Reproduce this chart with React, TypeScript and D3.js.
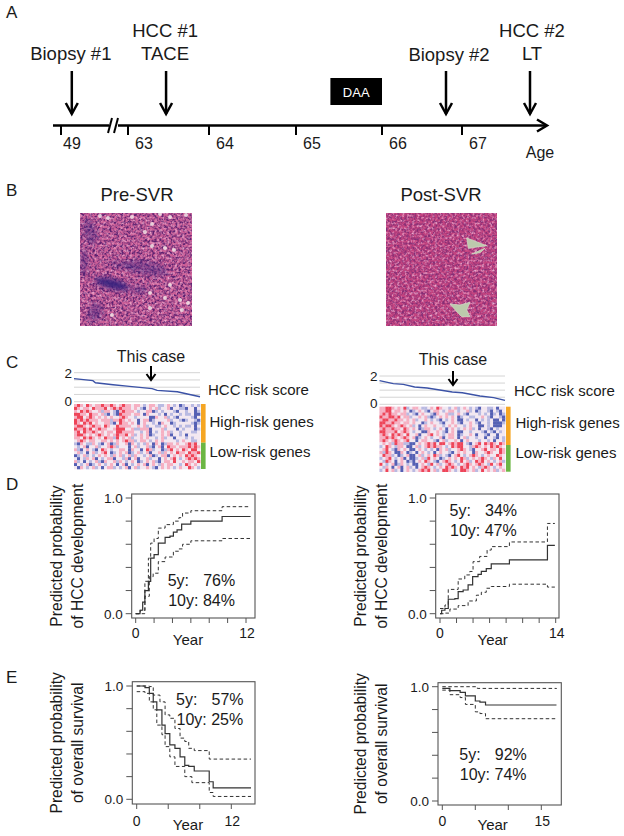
import React from "react"
import * as d3 from "d3"

const FONT = "'Liberation Sans', Arial, sans-serif"
const INK = "#1a1a1a"

// timeline (A)
const ageStops = [49, 50, 63, 64, 65, 66, 67, 68]
const ageTicks = [49, 63, 64, 65, 66, 67]
const events = [
  { age: 49.2, lines: ["Biopsy #1"], top: 60, dx: -1 },
  { age: 63.47, lines: ["HCC #1", "TACE"], top: 37, dx: -1 },
  { age: 66.8, lines: ["Biopsy #2"], top: 61, dx: 3 },
  { age: 67.8, lines: ["HCC #2", "LT"], top: 37, dx: 2 },
]
const daaStart = 65.4
const daaEnd = 66

// risk score curves (C), sample percentile -> score
const scorePre: [number, number][] = [
  [0, 1.59], [15, 1.45], [17, 1.31], [31, 1.17], [44, 1.06], [62, 0.9], [66, 0.78], [82, 0.69], [90, 0.53], [100, 0.34],
]
const scorePost: [number, number][] = [
  [0, 1.67], [11, 1.46], [19, 1.41], [28, 1.22], [38, 1.15], [58, 0.87], [66, 0.82], [80, 0.59], [91, 0.47], [100, 0.28],
]

// heatmap cells, R strong red, r pink, w pale, b light blue, B strong blue
const heatPre = [
  "rRrwRrwrrRrrRrwrRrrwrrwbwrrwbbwrwbwBbwwbwb",
  "RrwrrwRrrrRwrRrRrrrwrwbBwrwrbwwrBwwbbBwwBw",
  "rwRrRrwwrbrrwbBrRrrrwbwwrrBbwbwwwbBwwbwwBb",
  "RRrrwRrrwrbBwbBRrrrwrrwBrwwwbwBwbwwbwbbwBB",
  "rRRwrRrwrwrwrwwrRrwwbwwwwBBrwwrbwbBwwwwbBw",
  "RrRrRrrrwrrrbrrRrwrwwBwrrBbwwwwrbwwbBbwwbB",
  "RrwRrRwrwwrrbBwRrrwrwBwrwwbwBrwwBbwwwwwbBb",
  "rRRrwrRrrwRrwwRrrrrwwrwrbwwbbwrwwbwbwbbwBw",
  "RrrRrRwrRrrwwrRRRwwrbbrrrBwwwrbwwwBwbwwwBb",
  "rRwRrrRrwrwrrwRRrrrrwwbwrBwbwrwrbwwbwwwbbw",
  "rRRrwrwrRrwrwrRrrRwrbwrwrBbwwrwrBwwbwBwwww",
  "rrwRrRrwrwRrrbRwrwrbwwrwrwwbwrbwwBwwwbwbww",
  "wrRrwrrwwrrwrwrwrRrrbwrrwbwrwrwwwwbwrwwbbw",
  "bBrwbbrwbBwrBbrwwrBrwbwbrwBrwBbrrwrwwrRrRw",
  "wbwrBwwrbwwrRrbwwwBwrbwwrbBwrBwRrrwrrrRrRr",
  "rbBwrwbBwRrwbwwrrwBrwwBwRrbwwBbrRwrwRrwRRw",
  "wrbwBwrbwrRwBbwrwrBbwrbwrBwwrbrwrwRrrwRrrR",
  "BbwrbwbwrwrwbrwrbwrbrwwbwrBbwrrBwrwrwRrRrw",
  "wBwbrwrBwbwrrBwwbrBwrBwwrbwwBwrwrRwbwrRrRr",
  "rbwBwbwrbBrwwrbrwbwrwBbwrwrbBwrrwRwwrwrrwR",
  "BwbwrBbwrwbwrwBwrBwbwrwrBwrwbrwrrwwbwRrwrw",
  "wBrwbwrbwBwrrbwbwrBwrbwwrwbBwrwrwbwrwwRrwb",
]
const heatPost = [
  "rrRRrwrwRbwrrwbbwrwRrwwbwrbwrwbwbBwwbbwBww",
  "rrRRwrrwrwBbwrwbBwrrwbwrrwbwwrbwBbwwbBwbBw",
  "rRrRrrwrrbwbBwrwwbBrwwrbbwrwbBwwwbwbwBbwBb",
  "RrrRRrRwrrbwwrwrbBbwrwrwrwBbwwbbwwrwbBwwbB",
  "rRRrrRrrwrwrbwwrwbwbBwbwrwBBwbwwBwbwbwBBwB",
  "RRrrRrrwrrwrwwBbwrwwbBwwrwbBwwrwbBwwbwBBBb",
  "RrRRrwrRrwrbwBwrwwrwwbwrwrwwbwrwwBBwbwBBBw",
  "rRrrRrrwRrwrwBbrrwbwrwBwrwbwrwrbwBwwbBwbww",
  "RRrrrRwrRrwbwwBBrwwrwbBwrwBBwwbwwwbBwbBwbw",
  "rRrwRrRrwRwwrBwwrRwrwbwrrwBbwwrwBwwbBwwBww",
  "rrRrRrwrRrwrBbwrwbwwrBwrrwBwrbwwbwwBwwbBwb",
  "rRrwrRrwrRwwBwrrwwbBwrbwwrwBwrwwwbwwbwBwwb",
  "wrwrbRrrbbBBwrwrRrRwRRwrRrRRwbBwrRwRrRrwRr",
  "bwRrwbrrwBBwrbwrRrRrrwbwRrRRwwbrRrwrwRrRrw",
  "wrRwbBrwrwBBwrwbwbwBrwrbwwrRrwbBwwrRwrrwRr",
  "rbRrwBBrwBbwBwrwbwBwrwwbBwrwrwwBrwwrRrwwRr",
  "wRrrbwBbwrBBwrbwrwRrbwbBwrRwbwrRrwbwrwwRrw",
  "bwrRwbwrBwBBbwrbRwrwBbwrwrwRrbwrwrRrwbrwRw",
  "wbRrwBwrwBbBwrwRrwbBwrRrwbwRwrbwRrRwrwbwrb",
  "RwbwrBbrwbwBBwrwbRwrbwrRrwbwrRrwrRrwbRwrRw",
  "wbrwBwrBwrbwBwrRrwbwrwRrRrwRrRwrwbrRrwbwrw",
  "bwRwrbwBwrwbwrRrRwrbwRRrwbwRRrwrbwRwrwrbwr",
]

// HCC development (D), year -> probability
const devPreMid: [number, number][] = [
  [0, 0], [0.47, 0.03], [0.76, 0.1], [1, 0.2], [1.38, 0.28], [1.63, 0.48], [2, 0.51], [2.46, 0.61], [3.2, 0.66], [3.73, 0.67],
  [4.1, 0.705], [4.5, 0.725], [5, 0.775], [6, 0.8], [9.4, 0.84], [12.5, 0.84],
]
const devPreHigh: [number, number][] = [
  [0, 0], [0.5, 0.03], [1, 0.28], [1.38, 0.48], [1.63, 0.61], [2, 0.65], [2.46, 0.74], [3.2, 0.77], [4.1, 0.8], [4.7, 0.83],
  [5.1, 0.87], [6, 0.89], [9.4, 0.925], [12.5, 0.925],
]
const devPreLow: [number, number][] = [
  [0, 0], [0.47, 0], [1, 0.15], [1.48, 0.32], [1.9, 0.35], [2.46, 0.45], [3.2, 0.49], [4.1, 0.54], [4.7, 0.56], [5.1, 0.6],
  [6, 0.63], [9.4, 0.65], [12.5, 0.65],
]
const devPostMid: [number, number][] = [
  [0, 0], [0.2, 0.03], [0.6, 0.045], [1, 0.125], [1.8, 0.13], [2.2, 0.19], [2.8, 0.205], [3.4, 0.25], [3.95, 0.32], [4.6, 0.34],
  [5, 0.365], [5.6, 0.39], [6.2, 0.43], [8.4, 0.465], [13, 0.59], [13.9, 0.59],
]
const devPostHigh: [number, number][] = [
  [0, 0.045], [0.6, 0.075], [1, 0.21], [2.2, 0.3], [3, 0.335], [3.6, 0.365], [4, 0.45], [4.8, 0.495], [5.7, 0.55], [6.2, 0.58],
  [8.4, 0.62], [13, 0.78], [13.9, 0.78],
]
const devPostLow: [number, number][] = [
  [0, 0], [0.6, 0.005], [1.2, 0.04], [2.2, 0.07], [3.4, 0.11], [4.4, 0.16], [5, 0.185], [5.6, 0.22], [6.2, 0.235], [8.4, 0.255],
  [13, 0.23], [13.9, 0.23],
]

// overall survival (E), year -> probability
const survPreMid: [number, number][] = [
  [0, 1], [1.05, 0.985], [1.6, 0.935], [2.1, 0.86], [2.55, 0.79], [3.2, 0.655], [3.6, 0.58], [4.2, 0.48], [4.85, 0.45], [5.5, 0.375],
  [6.1, 0.3], [6.6, 0.29], [7.3, 0.25], [9.2, 0.155], [9.7, 0.1], [14.5, 0.1],
]
const survPreHigh: [number, number][] = [
  [0, 1], [1.6, 0.995], [2.1, 0.92], [2.95, 0.86], [3.6, 0.745], [4.2, 0.715], [4.85, 0.625], [5.5, 0.54], [6.1, 0.51], [6.6, 0.45],
  [7.3, 0.43], [9.2, 0.355], [14.5, 0.355],
]
const survPreLow: [number, number][] = [
  [0, 0.95], [1.05, 0.935], [1.6, 0.86], [2.1, 0.79], [2.55, 0.655], [3.2, 0.57], [3.6, 0.465], [4.2, 0.375], [4.85, 0.29], [6.1, 0.2],
  [7, 0.147], [9.2, 0.06], [9.7, 0.025], [14.5, 0.025],
]
const survPostMid: [number, number][] = [
  [0, 0.985], [1.15, 0.965], [2.7, 0.95], [3.5, 0.92], [5, 0.875], [5.7, 0.865], [6.55, 0.84], [17.3, 0.84],
]
const survPostHigh: [number, number][] = [
  [0, 1], [5.3, 0.985], [17.3, 0.98],
]
const survPostLow: [number, number][] = [
  [0, 0.97], [1.15, 0.93], [2.7, 0.905], [3.5, 0.845], [5, 0.78], [5.7, 0.765], [6.55, 0.72], [17.3, 0.72],
]

const heatColor: Record<string, string> = {
  R: "#ee4459",
  r: "#f6b0c2",
  w: "#f3e8f1",
  b: "#b9bae2",
  B: "#5560b4",
}

function Txt({ x, y, size, anchor, fill, children }: any) {
  return (
    <text x={x} y={y} fontSize={size} textAnchor={anchor ?? "start"} fill={fill ?? INK} fontFamily={FONT}>
      {children}
    </text>
  )
}

function Arrow({ x, y1, y2, wing, drop, sw }: any) {
  return (
    <g fill="none" stroke="#000" strokeWidth={sw}>
      <line x1={x} x2={x} y1={y1} y2={y2} />
      <polyline points={`${x - wing},${y2 - drop} ${x},${y2} ${x + wing},${y2 - drop}`} />
    </g>
  )
}

function Timeline() {
  const x = d3.scaleLinear().domain(ageStops).range([61, 115, 128, 209, 296, 382, 462, 547])
  const axisY = 125.5
  const startX = 53
  const endX = x(68)
  return (
    <g>
      <line x1={startX} x2={109} y1={axisY} y2={axisY} stroke="#000" strokeWidth={2.5} />
      <line x1={118} x2={endX - 2} y1={axisY} y2={axisY} stroke="#000" strokeWidth={2.5} />
      <polyline points={`${endX - 10},${axisY - 6} ${endX},${axisY} ${endX - 10},${axisY + 6}`} fill="none" stroke="#000" strokeWidth={2.5} />
      <line x1={108} x2={112} y1={133} y2={118} stroke="#000" strokeWidth={2} />
      <line x1={114} x2={118} y1={133} y2={118} stroke="#000" strokeWidth={2} />
      {ageTicks.map((a) => (
        <g key={a}>
          <line x1={x(a)} x2={x(a)} y1={axisY} y2={135} stroke="#000" strokeWidth={2} />
          <Txt x={x(a) + (a === 49 ? 11 : 16)} y={149} size={16} anchor="middle">{a}</Txt>
        </g>
      ))}
      <Txt x={540} y={158} size={16} anchor="middle">Age</Txt>
      {events.map((e) => (
        <g key={e.age}>
          <Arrow x={x(e.age)} y1={71} y2={114} wing={6} drop={11} sw={2.5} />
          {e.lines.map((l, i) => (
            <Txt key={l} x={x(e.age) + e.dx} y={e.top + i * 23} size={18.5} anchor="middle">{l}</Txt>
          ))}
        </g>
      ))}
      <rect x={x(daaStart)} y={78} width={x(daaEnd) - x(daaStart)} height={27} fill="#000" />
      <Txt x={(x(daaStart) + x(daaEnd)) / 2} y={97} size={13} anchor="middle" fill="#fff">DAA</Txt>
    </g>
  )
}

function TissueDefs() {
  return (
    <defs>
      <filter id="tissueDark" x="0" y="0" width="1" height="1" colorInterpolationFilters="sRGB">
        <feTurbulence type="fractalNoise" baseFrequency="0.42" numOctaves="2" seed="7" />
        <feColorMatrix type="matrix" values="0 0 0 0 0.36  0 0 0 0 0.13  0 0 0 0 0.44  3 0 0 0 -1.15" />
        <feGaussianBlur stdDeviation="0.6" />
      </filter>
      <filter id="tissueLight" x="0" y="0" width="1" height="1" colorInterpolationFilters="sRGB">
        <feTurbulence type="fractalNoise" baseFrequency="0.4" numOctaves="2" seed="21" />
        <feColorMatrix type="matrix" values="0 0 0 0 0.93  0 0 0 0 0.66  0 0 0 0 0.8  0 2.6 0 0 -1.25" />
        <feGaussianBlur stdDeviation="0.6" />
      </filter>
      <filter id="soft" x="-40%" y="-40%" width="180%" height="180%">
        <feGaussianBlur stdDeviation="2.4" />
      </filter>
      <filter id="softSmall" x="-100%" y="-100%" width="300%" height="300%">
        <feGaussianBlur stdDeviation="0.7" />
      </filter>
      <filter id="heatSoft" x="0" y="0" width="1" height="1">
        <feGaussianBlur stdDeviation="0.4" />
      </filter>
    </defs>
  )
}

const preDark = [
  [112, 284, 18, 5, 14], [122, 265, 14, 3, 8], [90, 232, 6, 14, -15], [95, 312, 7, 10, 20], [139, 290, 9, 4, 0], [146, 268, 22, 7, 10], [84, 262, 4, 14, 0],
]
const prePale = [
  [108, 218], [132, 217], [152, 224], [160, 214], [170, 217], [186, 215], [152, 246], [165, 248], [174, 250], [150, 308],
  [112, 315], [170, 285], [150, 293], [180, 300], [188, 303], [182, 310], [165, 298], [100, 216], [145, 232],
]
const postPale = [
  "466.7,238 472,240 486.7,245.7 475,247.3 468.3,248.3",
  "471.7,254 485,248.3 480,252.7",
  "450,304 460,305 470,302.3 466.7,310 470,316.7 461.7,316.7 458.3,313.3",
]

function Tissue() {
  return (
    <g>
      <rect x={80} y={213} width={112} height={113} fill="#cc5f97" />
      <rect x={80} y={213} width={112} height={113} filter="url(#tissueDark)" />
      <rect x={80} y={213} width={112} height={113} filter="url(#tissueLight)" />
      <clipPath id="preClip"><rect x={80} y={213} width={112} height={113} /></clipPath>
      <g clipPath="url(#preClip)">
        {preDark.map((d, i) => (
          <ellipse key={i} cx={d[0]} cy={d[1]} rx={d[2]} ry={d[3]} transform={`rotate(${d[4]} ${d[0]} ${d[1]})`} fill="#38247f" opacity={i === 0 ? 0.95 : 0.4} filter="url(#soft)" />
        ))}
        {prePale.map((d, i) => (
          <circle key={i} cx={d[0]} cy={d[1]} r={2} fill="#f3e3e6" opacity={0.85} filter="url(#softSmall)" />
        ))}
      </g>
      <rect x={386} y={213} width={111} height={113} fill="#c4437f" />
      <rect x={386} y={213} width={111} height={113} filter="url(#tissueDark)" opacity={0.6} />
      <rect x={386} y={213} width={111} height={113} filter="url(#tissueLight)" />
      {postPale.map((p) => (
        <polygon key={p} points={p} fill="#bccaac" stroke="#cfd8c4" strokeWidth={0.8} />
      ))}
    </g>
  )
}

function Heat({ rows, x0, x1, y0, y1 }: { rows: string[]; x0: number; x1: number; y0: number; y1: number }) {
  const cols = d3.max(rows, (r) => r.length) ?? 0
  const x = d3.scaleBand<number>().domain(d3.range(cols)).range([x0, x1])
  const y = d3.scaleBand<number>().domain(d3.range(rows.length)).range([y0, y1])
  return (
    <g filter="url(#heatSoft)">
      <rect x={x0} y={y0} width={x1 - x0} height={y1 - y0} fill={heatColor.w} />
      {rows.map((row, j) =>
        row.split("").map((c, i) => (
          <rect key={`${j}-${i}`} x={x(i)} y={y(j)} width={x.bandwidth() + 0.3} height={y.bandwidth() + 0.3} fill={heatColor[c]} />
        )),
      )}
    </g>
  )
}

function RiskPanel({ score, rows, x0, x1, lineTop, lineBottom, heatTop, heatBottom, split, arrowX, arrowY, caseY, labelX, labelShift }: any) {
  const x = d3.scaleLinear().domain([0, 100]).range([x0, x1])
  const y = d3.scaleLinear().domain([0, 2]).range([lineBottom, lineTop])
  const line = d3.line<[number, number]>().x((d) => x(d[0])).y((d) => y(d[1]))
  return (
    <g>
      {d3.range(0, 2.01, 0.5).map((v) => (
        <line key={v} x1={x0} x2={x1} y1={y(v)} y2={y(v)} stroke="#d4d4d4" strokeWidth={1} />
      ))}
      <path d={line(score) ?? ""} fill="none" stroke="#3b52a6" strokeWidth={1.4} />
      <Txt x={x0 - 2} y={y(2) + 5} size={13.5} anchor="end">2</Txt>
      <Txt x={x0 - 2} y={y(0) + 4} size={13.5} anchor="end">0</Txt>
      <Txt x={arrowX} y={caseY} size={16} anchor="middle">This case</Txt>
      <Arrow x={arrowX} y1={arrowY} y2={arrowY + 14} wing={4.5} drop={6} sw={2} />
      <Heat rows={rows} x0={x0} x1={x1} y0={heatTop} y1={heatBottom} />
      <rect x={x1 + 1} y={heatTop} width={4.6} height={split - heatTop} fill="#f5a623" />
      <rect x={x1 + 1} y={split} width={4.6} height={heatBottom - split} fill="#6cb644" />
      <Txt x={labelX} y={labelShift + 395} size={15}>HCC risk score</Txt>
      <Txt x={labelX + 1.5} y={labelShift + 427} size={15}>High-risk genes</Txt>
      <Txt x={labelX + 1.5} y={labelShift + 457} size={15}>Low-risk genes</Txt>
    </g>
  )
}

function Km({ mid, high, low, frame, xRange, yRange, maxYear, step, lastLabel, statY, stat5x, pct5, pct10, yearX, yearY, labelY, title2, titleX }: any) {
  const x = d3.scaleLinear().domain([0, maxYear]).range(xRange)
  const y = d3.scaleLinear().domain([0, 1]).range(yRange)
  const line = d3.line<[number, number]>().x((d) => x(d[0])).y((d) => y(d[1])).curve(d3.curveStepAfter)
  const midY = (frame.y0 + frame.y1) / 2
  return (
    <g>
      <rect x={frame.x0} y={frame.y0} width={frame.x1 - frame.x0} height={frame.y1 - frame.y0} fill="none" stroke="#555" strokeWidth={1.1} />
      {d3.range(0, 1.01, 0.2).map((v) => (
        <line key={v} x1={frame.x0 - 6} x2={frame.x0} y1={y(v)} y2={y(v)} stroke="#555" />
      ))}
      {d3.range(0, maxYear + 0.01, step).map((v) => (
        <line key={v} x1={x(v)} x2={x(v)} y1={frame.y1} y2={frame.y1 + 5} stroke="#555" />
      ))}
      <path d={line(high) ?? ""} fill="none" stroke="#333" strokeWidth={1} strokeDasharray="3.5,2.5" />
      <path d={line(low) ?? ""} fill="none" stroke="#333" strokeWidth={1} strokeDasharray="3.5,2.5" />
      <path d={line(mid) ?? ""} fill="none" stroke="#333" strokeWidth={1.2} />
      <Txt x={frame.x0 - 9} y={y(1) + 5} size={13.5} anchor="end">1.0</Txt>
      <Txt x={frame.x0 - 9} y={y(0) + 5} size={13.5} anchor="end">0.0</Txt>
      <Txt x={x(0)} y={labelY} size={14} anchor="middle">0</Txt>
      <Txt x={x(maxYear) + 1} y={labelY} size={14} anchor="middle">{lastLabel}</Txt>
      <Txt x={yearX} y={yearY} size={15} anchor="middle">Year</Txt>
      <Txt x={stat5x} y={statY} size={16}>5y:</Txt>
      <Txt x={stat5x + 35.5} y={statY} size={16}>{pct5}</Txt>
      <Txt x={stat5x + 0.5} y={statY + 20} size={16}>{`10y: ${pct10}`}</Txt>
      <g transform={`translate(${titleX},${midY}) rotate(-90)`}>
        <Txt x={0} y={0} size={15.6} anchor="middle">Predicted probability</Txt>
        <Txt x={0} y={21} size={15.6} anchor="middle">{title2}</Txt>
      </g>
    </g>
  )
}

export default function App() {
  return (
    <svg width={624} height={836} style={{ position: "absolute", left: 0, top: 0, background: "#fff" }}>
      <TissueDefs />
      <Txt x={6} y={18} size={17}>A</Txt>
      <Timeline />

      <Txt x={6} y={196} size={17}>B</Txt>
      <Txt x={137} y={201} size={18.5} anchor="middle">Pre-SVR</Txt>
      <Txt x={441} y={201} size={18.5} anchor="middle">Post-SVR</Txt>
      <Tissue />

      <Txt x={6} y={368} size={17}>C</Txt>
      <RiskPanel score={scorePre} rows={heatPre} x0={74} x1={200} lineTop={372.7} lineBottom={401.7} heatTop={404} heatBottom={469} split={442.7} arrowX={151} arrowY={366} caseY={362} labelX={208} labelShift={0} />
      <RiskPanel score={scorePost} rows={heatPost} x0={379.5} x1={505} lineTop={376} lineBottom={404.3} heatTop={406.7} heatBottom={471.7} split={445} arrowX={453} arrowY={371} caseY={365} labelX={514} labelShift={1} />

      <Txt x={6} y={490} size={17}>D</Txt>
      <Km mid={devPreMid} high={devPreHigh} low={devPreLow} frame={{ x0: 131.7, x1: 255, y0: 494, y1: 618 }} xRange={[135.7, 246]} yRange={[613.7, 498]} maxYear={12} step={2} lastLabel="12"
        stat5x={167.7} statY={586} pct5="76%" pct10="84%" yearX={188} yearY={645} labelY={638} title2="of HCC development" titleX={62} />
      <Km mid={devPostMid} high={devPostHigh} low={devPostLow} frame={{ x0: 435.7, x1: 559, y0: 494, y1: 618 }} xRange={[440, 555.7]} yRange={[613.7, 498]} maxYear={14} step={2} lastLabel="14"
        stat5x={449.5} statY={516} pct5="34%" pct10="47%" yearX={492.7} yearY={645} labelY={638} title2="of HCC development" titleX={366} />

      <Txt x={6} y={683} size={17}>E</Txt>
      <Km mid={survPreMid} high={survPreHigh} low={survPreLow} frame={{ x0: 132.3, x1: 255, y0: 681.7, y1: 804 }} xRange={[136.7, 231.3]} yRange={[799.3, 686]} maxYear={12} step={4} lastLabel="12"
        stat5x={176} statY={704.5} pct5="57%" pct10="25%" yearX={188} yearY={830} labelY={826} title2="of overall survival" titleX={62} />
      <Km mid={survPostMid} high={survPostHigh} low={survPostLow} frame={{ x0: 438, x1: 561.3, y0: 682.7, y1: 805 }} xRange={[442.3, 541.3]} yRange={[801, 686.7]} maxYear={15} step={5} lastLabel="15"
        stat5x={459.3} statY={760} pct5="92%" pct10="74%" yearX={492.7} yearY={830} labelY={826} title2="of overall survival" titleX={366} />
    </svg>
  )
}
